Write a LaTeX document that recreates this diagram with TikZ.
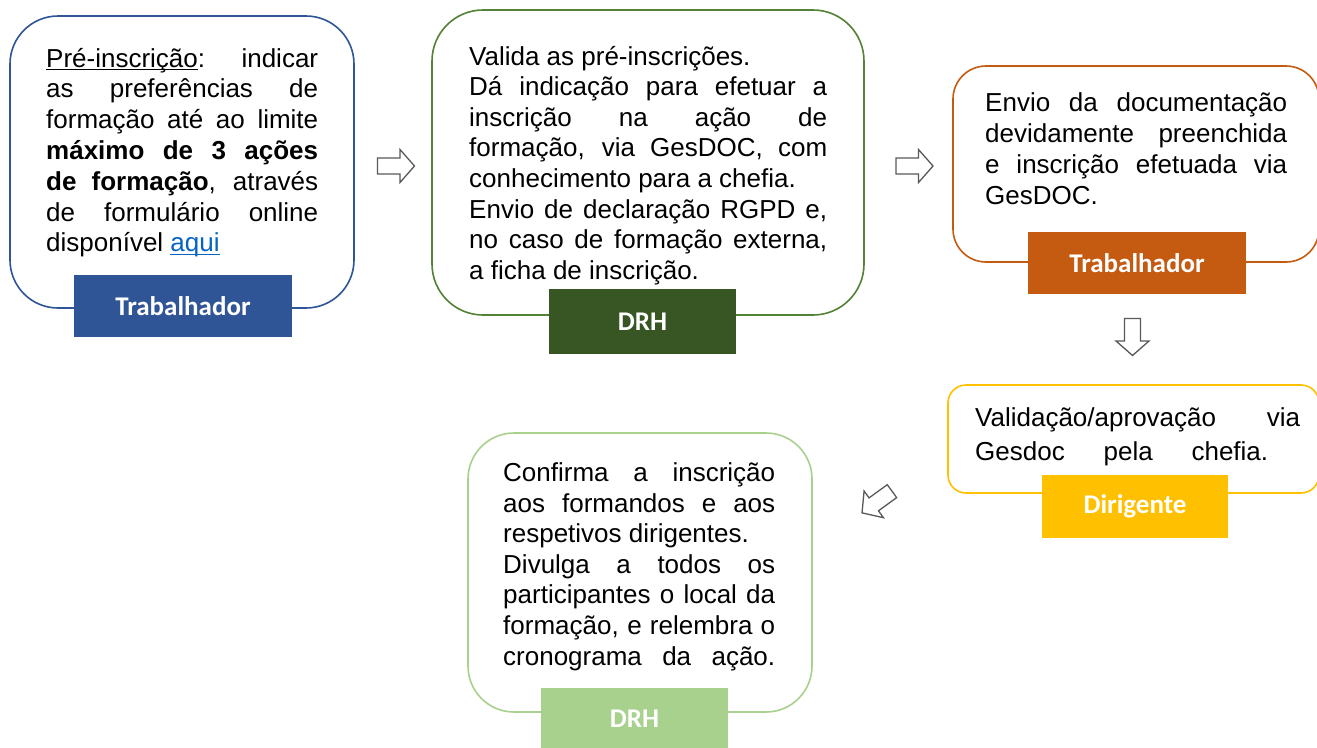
\documentclass[tikz,border=0pt]{standalone}
\usepackage{fontspec}
\setmainfont{Liberation Sans}
\newfontfamily\lblfont{Carlito}
\definecolor{cblue}{HTML}{2F5597}
\definecolor{cgreen}{HTML}{538135}
\definecolor{cdgreen}{HTML}{375623}
\definecolor{corange}{HTML}{C55A11}
\definecolor{cyellow}{HTML}{FFC000}
\definecolor{clgreen}{HTML}{A9D18E}
\definecolor{clink}{HTML}{0563C1}
\definecolor{carrow}{HTML}{595959}
\newcommand\jl[1]{\hbox to\hsize{#1}}
\newcommand\jw[2]{\hbox to #1{#2}}
\newcommand\rl[1]{\hbox{#1}}
\newcommand\ulin[1]{\setbox0\hbox{#1}\rlap{\rule[-3pt]{\wd0}{1.2pt}}\box0}
\newcommand\para[3]{\vtop{\hsize=#1pt\fontsize{26}{#2}\selectfont\hbadness=10000 #3}}
\tikzset{
  box/.style={draw, line width=1.6pt, fill=white, rectangle, inner sep=0},
  lbl/.style={fill, rectangle, inner sep=0, text=white, font=\lblfont\bfseries\fontsize{27}{32}\selectfont},
  txt/.style={inner sep=0, anchor=base west},
  arrowline/.style={draw=carrow, fill=white, line width=1.3pt, line join=miter},
  rarrow/.pic={\path[arrowline] (-18.5,-8) -- (4,-8) -- (4,-16.5) -- (18.5,0) -- (4,16.5) -- (4,8) -- (-18.5,8) -- cycle;}
}
\begin{document}
\begin{tikzpicture}[x=1pt,y=-1pt]
\useasboundingbox (0,0) rectangle (1317,747);

% box 1
\node[box, draw=cblue, minimum width=344, minimum height=292, rounded corners=48] (b1) at (182,162) {};
\node[lbl, fill=cblue, minimum width=218, minimum height=62] (l1) at (183,306) {Trabalhador};
\node[txt] (t1) at (46,67) {\para{272}{30.8}{%
\jl{\ulin{Pré-inscrição}: indicar}
\jl{as preferências de}
\jl{formação até ao limite}
\jl{\textbf{máximo de 3 ações}}
\jl{\textbf{de formação}, através}
\jl{de formulário online}
\rl{disponível \textcolor{clink}{\ulin{aqui}}}}};

% box 2
\node[box, draw=cgreen, minimum width=432, minimum height=305, rounded corners=51] (b2) at (648,162.5) {};
\node[lbl, fill=cdgreen, minimum width=187, minimum height=65] (l2) at (642.5,321.5) {DRH};
\node[txt] (t2) at (469,65) {\para{358}{30.6}{%
\rl{Valida as pré-inscrições.}
\jl{Dá indicação para efetuar a}
\jl{inscrição na ação de}
\jl{formação, via GesDOC, com}
\rl{conhecimento para a chefia.}
\jl{Envio de declaração RGPD e,}
\jl{no caso de formação externa,}
\rl{a ficha de inscrição.}}};

% box 3
\node[box, draw=corange, minimum width=366, minimum height=196, rounded corners=33] (b3) at (1136,164) {};
\node[lbl, fill=corange, minimum width=218, minimum height=62] (l3) at (1137,263) {Trabalhador};
\node[txt] (t3) at (985,111.7) {\para{302}{31}{%
\jl{Envio da documentação}
\jl{devidamente preenchida}
\jl{e inscrição efetuada via}
\rl{GesDOC.}}};

% box 4
\node[box, draw=cyellow, minimum width=371, minimum height=108, rounded corners=18] (b4) at (1133.5,439) {};
\node[lbl, fill=cyellow, minimum width=186, minimum height=63] (l4) at (1135,506.5) {Dirigente};
\node[txt] (t4) at (975,426.7) {\para{325}{34}{%
\jl{Validação/aprovação via}
\jw{293pt}{Gesdoc pela chefia.}}};

% box 5
\node[box, draw=clgreen, minimum width=344, minimum height=279, rounded corners=46] (b5) at (640,572.5) {};
\node[lbl, fill=clgreen, minimum width=187, minimum height=62] (l5) at (634.5,719) {DRH};
\node[txt] (t5) at (503,481.7) {\para{272}{30.55}{%
\jl{Confirma a inscrição}
\jl{aos formandos e aos}
\rl{respetivos dirigentes.}
\jl{Divulga a todos os}
\jl{participantes o local da}
\jl{formação, e relembra o}
\jl{cronograma da ação.}}};

% block arrows
\pic at (396,166) {rarrow};
\pic at (914.5,166) {rarrow};
\pic[rotate=-90] at (1132.5,337) {rarrow};
\pic[rotate=216] at (877,502) {rarrow};
\end{tikzpicture}
\end{document}
